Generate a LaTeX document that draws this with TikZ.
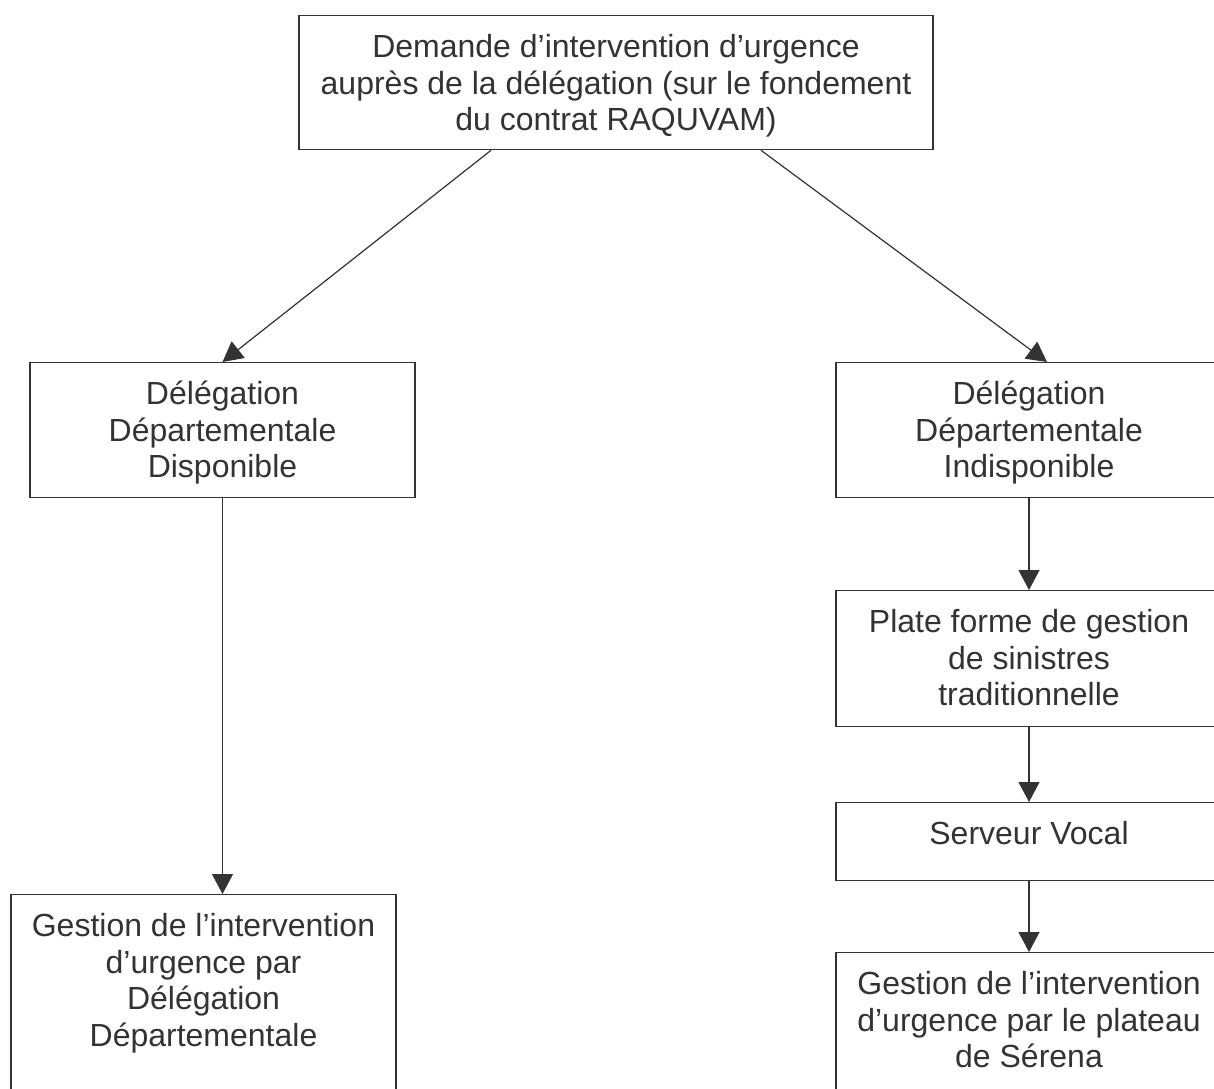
\documentclass[tikz,border=0pt]{standalone}
\usepackage{fontspec}
\setmainfont{Liberation Sans}
\usetikzlibrary{arrows.meta}
\definecolor{encre}{HTML}{333333}
\newcommand{\cadre}[3]{\parbox[c][#1][t]{#2}{\centering\rule{0pt}{21pt}#3}}

\begin{document}
\begin{tikzpicture}[x=0.5pt, y=-0.5pt, >={Triangle[length=10pt, width=10.5pt]},
		every node/.style={font=\fontsize{16}{18.3}\selectfont, text=encre},
		boite/.style={draw=encre, line width=0.65pt, inner sep=0pt, anchor=north}]
		\useasboundingbox (0,0) rectangle (1214,1088);
		\clip (0,0) rectangle (1214,1088);
		\node[boite] (dem) at (616,15) {\cadre{67pt}{317pt}{Demande d’intervention d’urgence\\auprès de la délégation (sur le fondement\\du contrat RAQUVAM)}};
		\node[boite] (dispo) at (222.5,362) {\cadre{67.5pt}{192.5pt}{Délégation\\Départementale\\Disponible}};
		\node[boite] (indispo) at (1029,362) {\cadre{67.5pt}{193pt}{Délégation\\Départementale\\Indisponible}};
		\node[boite] (plate) at (1029,590) {\cadre{68pt}{193pt}{Plate forme de gestion\\de sinistres\\traditionnelle}};
		\node[boite] (vocal) at (1029,802) {\cadre{39pt}{193pt}{Serveur Vocal}};
		\node[boite] (gauche) at (203.5,894) {\cadre{120pt}{192.5pt}{Gestion de l’intervention\\d’urgence par\\Délégation\\Départementale}};
		\node[boite] (serena) at (1029,952) {\cadre{100pt}{193pt}{Gestion de l’intervention\\d’urgence par le plateau\\de Sérena}};
		\draw[->, draw=encre, fill=encre, line width=0.6pt] ([xshift=-62.5pt]dem.south) -- (dispo.north);
		\draw[->, draw=encre, fill=encre, line width=0.6pt] ([xshift=72.5pt]dem.south) -- ([xshift=9pt]indispo.north);
		\draw[->, draw=encre, fill=encre, line width=0.6pt] (dispo.south) -- (dispo.south |- gauche.north);
		\draw[->, draw=encre, fill=encre, line width=0.6pt] (indispo) -- (plate);
		\draw[->, draw=encre, fill=encre, line width=0.6pt] (plate) -- (vocal);
		\draw[->, draw=encre, fill=encre, line width=0.6pt] (vocal) -- (serena);
	\end{tikzpicture}
\end{document}
